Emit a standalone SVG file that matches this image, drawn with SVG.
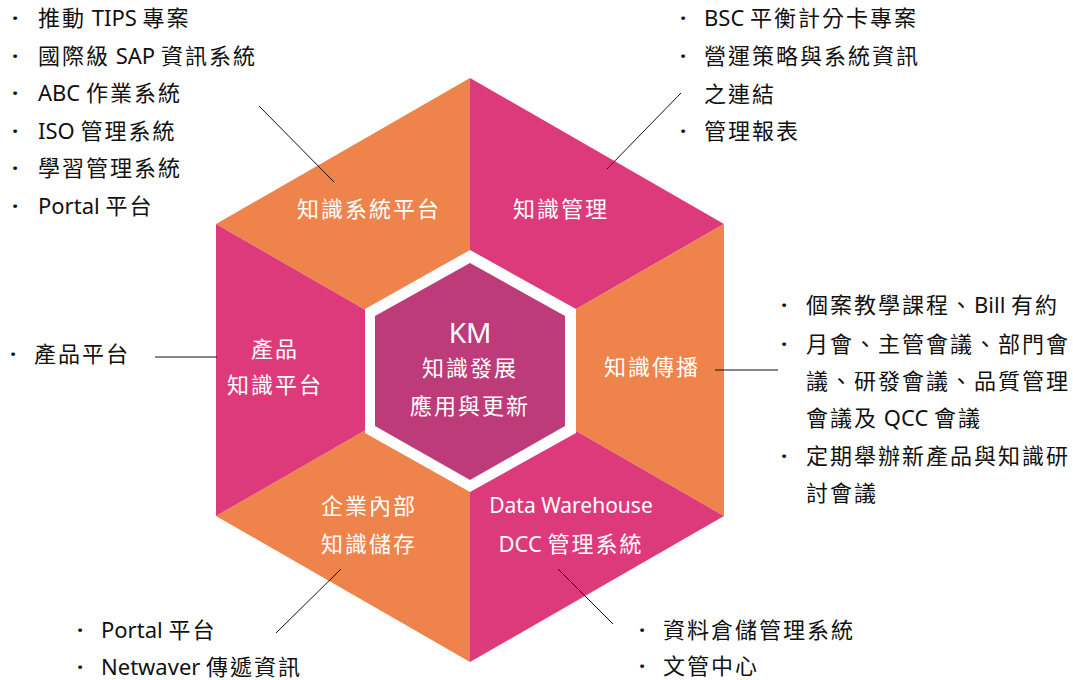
<svg xmlns="http://www.w3.org/2000/svg" width="1073" height="680" viewBox="0 0 1073 680">
<style>
.org{fill:#EE834B}
.pnk{fill:#DD3A7C}
.w{fill:#FFFFFF;font-family:"Noto Sans","Noto Sans CJK TC",sans-serif;font-size:22px;letter-spacing:2px;text-anchor:middle}
.b{fill:#111111;font-family:"Noto Sans","Noto Sans CJK TC",sans-serif;font-size:22px;letter-spacing:2px}
.l{letter-spacing:0}
.dot{fill:#111111;font-family:"Noto Sans","Noto Sans CJK TC",sans-serif;font-size:22px;font-weight:bold}
.ln{stroke:#111111;stroke-width:1;fill:none}
</style>
<rect width="1073" height="680" fill="#FFFFFF"/>
<g id="seg-knowledge-system">
<polygon class="org" points="470,370 216,224 470,78"/>
<text class="w" x="369" y="217">知識系統平台</text>
</g>
<g id="seg-knowledge-management">
<polygon class="pnk" points="470,370 470,78 724,224"/>
<text class="w" x="561" y="217">知識管理</text>
</g>
<g id="seg-knowledge-spread">
<polygon class="org" points="470,370 724,224 724,516"/>
<text class="w" x="652" y="375">知識傳播</text>
</g>
<g id="seg-data-warehouse">
<polygon class="pnk" points="470,370 724,516 470,662"/>
<text class="w" x="571" y="513" style="font-size:21px;letter-spacing:0">Data Warehouse</text>
<text class="w" x="571" y="552"><tspan class="l">DCC </tspan>管理系統</text>
</g>
<g id="seg-internal-storage">
<polygon class="org" points="470,370 470,662 216,516"/>
<text class="w" x="369" y="514">企業內部</text>
<text class="w" x="369" y="552">知識儲存</text>
</g>
<g id="seg-product-platform">
<polygon class="pnk" points="470,370 216,516 216,224"/>
<text class="w" x="275" y="357">產品</text>
<text class="w" x="275" y="393">知識平台</text>
</g>
<g id="center-km">
<polygon fill="#FFFFFF" points="470,250 576,309 576,433 470,492 365,433 365,309"/>
<polygon fill="#BD3B79" points="470,263 565,316 565,426 470,480 375,426 375,316"/>
<text class="w" x="470" y="343" style="font-size:28px;letter-spacing:0">KM</text>
<text class="w" x="470" y="376">知識發展</text>
<text class="w" x="470" y="414">應用與更新</text>
</g>
<g id="connectors">
<line class="ln" x1="259" y1="106" x2="334" y2="182"/>
<line class="ln" x1="681" y1="93" x2="607" y2="169"/>
<line class="ln" x1="155" y1="357" x2="217" y2="357"/>
<line class="ln" x1="715" y1="370" x2="778" y2="370"/>
<line class="ln" x1="341" y1="569" x2="276" y2="633"/>
<line class="ln" x1="558" y1="569" x2="613" y2="624"/>
</g>
<g id="list-top-left">
<text class="dot" x="12" y="26">·</text><text class="b" x="38" y="26">推動<tspan class="l"> TIPS </tspan>專案</text>
<text class="dot" x="12" y="64">·</text><text class="b" x="38" y="64">國際級<tspan class="l"> SAP </tspan>資訊系統</text>
<text class="dot" x="12" y="101">·</text><text class="b" x="38" y="101"><tspan class="l">ABC </tspan>作業系統</text>
<text class="dot" x="12" y="139">·</text><text class="b" x="38" y="139"><tspan class="l">ISO </tspan>管理系統</text>
<text class="dot" x="12" y="176">·</text><text class="b" x="38" y="176">學習管理系統</text>
<text class="dot" x="12" y="214">·</text><text class="b" x="38" y="214"><tspan class="l">Portal </tspan>平台</text>
</g>
<g id="list-top-right">
<text class="dot" x="680" y="26">·</text><text class="b" x="704" y="26"><tspan class="l">BSC </tspan>平衡計分卡專案</text>
<text class="dot" x="680" y="64">·</text><text class="b" x="704" y="64">營運策略與系統資訊</text>
<text class="b" x="704" y="102">之連結</text>
<text class="dot" x="680" y="139">·</text><text class="b" x="704" y="139">管理報表</text>
</g>
<g id="list-right">
<text class="dot" x="781" y="313">·</text><text class="b" x="806" y="313">個案教學課程、<tspan class="l">Bill </tspan>有約</text>
<text class="dot" x="781" y="352">·</text><text class="b" x="806" y="352">月會、主管會議、部門會</text>
<text class="b" x="806" y="389">議、研發會議、品質管理</text>
<text class="b" x="806" y="426">會議及<tspan class="l"> QCC </tspan>會議</text>
<text class="dot" x="781" y="464">·</text><text class="b" x="806" y="464">定期舉辦新產品與知識研</text>
<text class="b" x="806" y="501">討會議</text>
</g>
<g id="list-left">
<text class="dot" x="10" y="362">·</text><text class="b" x="34" y="362">產品平台</text>
</g>
<g id="list-bottom-left">
<text class="dot" x="77" y="638">·</text><text class="b" x="101" y="638"><tspan class="l">Portal </tspan>平台</text>
<text class="dot" x="77" y="675">·</text><text class="b" x="101" y="675"><tspan class="l">Netwaver </tspan>傳遞資訊</text>
</g>
<g id="list-bottom-right">
<text class="dot" x="639" y="638">·</text><text class="b" x="663" y="638">資料倉儲管理系統</text>
<text class="dot" x="639" y="674">·</text><text class="b" x="663" y="674">文管中心</text>
</g>
</svg>
